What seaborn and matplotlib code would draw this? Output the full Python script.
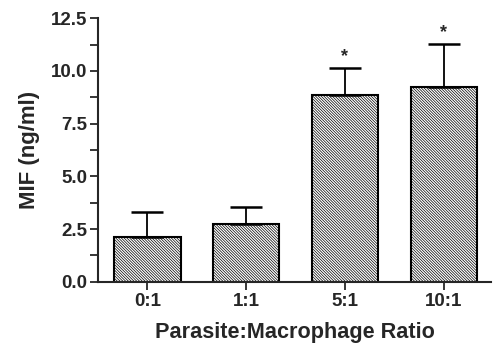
import numpy as np
import pandas as pd
import seaborn as sns
import matplotlib.pyplot as plt
from matplotlib.ticker import MultipleLocator

# dados
ratios = ["0:1", "1:1", "5:1", "10:1"]
mif = [2.11, 2.76, 8.84, 9.22]
sem = [1.22, 0.79, 1.32, 2.08]
signif = ["", "", "*", "*"]

sns.set_style("ticks")
plt.rcParams['font.family'] = ['Liberation Sans', 'DejaVu Sans']
plt.rcParams['font.weight'] = 'bold'
plt.rcParams['hatch.linewidth'] = 0.5

df = pd.DataFrame({"ratio": ratios, "mif": mif})

fig = plt.figure(figsize=(4.93, 3.48), dpi=100)
ax = fig.add_axes([0.199, 0.1905, 0.797, 0.757])

sns.barplot(data=df, x="ratio", y="mif", color="white", edgecolor="black",
            linewidth=1.5, width=0.67, errorbar=None, ax=ax)
for bar in ax.patches:
    bar.set_hatch("\\" * 12)

# barras de erro so para cima
pos = np.arange(len(ratios))
ax.errorbar(pos, mif, yerr=[np.zeros(len(sem)), sem], fmt="none",
            ecolor="black", elinewidth=1.3, capsize=11.5, capthick=1.8, zorder=1)

for i, s in enumerate(signif):
    if s:
        ax.annotate(s, (pos[i], mif[i] + sem[i]), xytext=(0, 1.5),
                    textcoords="offset points", ha="center", va="bottom",
                    fontsize=13, fontweight="bold")

ax.set_xlim(-0.5, 3.48)
ax.set_ylim(0, 12.5)
ax.yaxis.set_major_locator(MultipleLocator(2.5))
ax.yaxis.set_minor_locator(MultipleLocator(1.25))
ax.yaxis.set_major_formatter(plt.FormatStrFormatter("%.1f"))
ax.tick_params(axis="both", which="both", direction="out", width=1.3, labelsize=13.5, pad=2)
ax.tick_params(axis="both", which="major", length=6)
ax.tick_params(axis="y", which="minor", length=6)
for lab in ax.get_xticklabels() + ax.get_yticklabels():
    lab.set_fontweight("bold")

ax.set_xlabel("Parasite:Macrophage Ratio", fontsize=15.6, fontweight="bold", labelpad=9)
ax.set_ylabel("MIF (ng/ml)", fontsize=16, fontweight="bold", labelpad=8)

sns.despine(ax=ax)
ax.spines["left"].set_linewidth(1.5)
ax.spines["bottom"].set_linewidth(1.5)

fig.savefig("out.png", dpi=100)
